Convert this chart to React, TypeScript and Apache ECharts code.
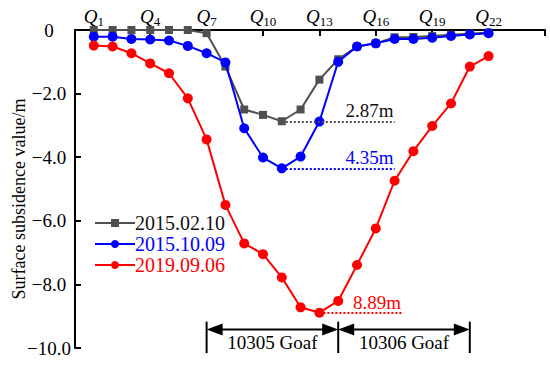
import { useEffect, useRef } from "react";
import * as echarts from "echarts";

const FONT = '"Liberation Serif", "Times New Roman", serif';

// Survey points Q1..Q22
const qNumbers = [1, 2, 3, 4, 5, 6, 7, 8, 9, 10, 11, 12, 13, 14, 15, 16, 17, 18, 19, 20, 21, 22];
const qLabelTicks = [1, 4, 7, 10, 13, 16, 19, 22];
const qAxisTicks = [1, 4, 7, 10, 13, 16, 19, 22, 25];

const seriesNames = ["2015.02.10", "2015.10.09", "2019.09.06"];
const subsidence20150210 = [0, 0, 0, 0, 0, 0, -0.1, -1.15, -2.5, -2.67, -2.87, -2.5, -1.56, -0.92, -0.52, -0.42, -0.23, -0.22, -0.19, -0.15, -0.12, -0.08];
const subsidence20151009 = [-0.21, -0.21, -0.28, -0.3, -0.33, -0.5, -0.73, -1.02, -3.09, -4.01, -4.35, -3.98, -2.88, -1.0, -0.52, -0.42, -0.28, -0.28, -0.24, -0.19, -0.14, -0.1];
const subsidence20190906 = [-0.49, -0.52, -0.73, -1.05, -1.36, -2.15, -3.44, -5.5, -6.71, -7.05, -7.78, -8.72, -8.89, -8.52, -7.39, -6.24, -4.74, -3.81, -3.02, -2.31, -1.15, -0.82];

const yTicks = [0, -2, -4, -6, -8, -10];
const yAxisTitle = "Surface subsidence value/m";

// Max-subsidence annotation line end (in Q index units)
const maxLineEnds = [17, 17, 17.4];

// Goaf extents (in Q index units) and names
const goafBounds = [7, 14, 21];
const goafNames = ["10305 Goaf", "10306 Goaf"];

export default function App() {
  const ref = useRef<HTMLDivElement>(null);

  useEffect(() => {
    const chart = echarts.init(ref.current!, null, { renderer: "svg" });
    const colors = ["#505050", "#0000ff", "#ff0000"];
    const textColors = ["#111111", "#0000ff", "#ff0000"];
    const values = [subsidence20150210, subsidence20151009, subsidence20190906];
    const symbols = ["rect", "circle", "circle"];
    const symbolSizes = [8, 10, 10];

    const series = values.map((vals, k) => {
      let mi = 0;
      vals.forEach((v, i) => {
        if (v < vals[mi]) mi = i;
      });
      const mv = vals[mi];
      return {
        name: seriesNames[k],
        type: "line",
        data: vals.map((v, i) => [qNumbers[i], v]),
        symbol: symbols[k],
        symbolSize: symbolSizes[k],
        clip: false,
        z: 2 + k,
        itemStyle: { color: colors[k] },
        lineStyle: { color: colors[k], width: 2 },
        markLine: {
          silent: true,
          symbol: ["none", "none"],
          lineStyle: { color: colors[k], type: "dotted", width: 2 },
          label: {
            show: true,
            position: "insideEndTop",
            distance: 1,
            formatter: `${Math.abs(mv).toFixed(2)}m`,
            color: textColors[k],
            fontSize: 19,
            fontFamily: FONT,
          },
          data: [[{ coord: [qNumbers[mi], mv] }, { coord: [maxLineEnds[k], mv] }]],
        },
      };
    });

    chart.setOption({
      animation: false,
      backgroundColor: "#ffffff",
      textStyle: { fontFamily: FONT },
      grid: { left: 75, right: 5, top: 30, bottom: 17, containLabel: false, outerBoundsMode: "none" },
      legend: {
        orient: "vertical",
        left: 89,
        top: 208,
        itemWidth: 40,
        itemHeight: 10,
        itemGap: 1,
        textStyle: { fontSize: 20, fontFamily: FONT, lineHeight: 20, padding: [0, 0, 0, -5] },
        data: seriesNames.map((n, k) => ({ name: n, textStyle: { color: textColors[k] } })),
      },
      xAxis: {
        type: "value",
        position: "top",
        min: 0,
        max: 25,
        splitLine: { show: false },
        axisLine: { show: true, onZero: false, lineStyle: { color: "#000", width: 2 } },
        axisTick: {
          show: true,
          inside: true,
          length: 6,
          customValues: qAxisTicks,
          lineStyle: { color: "#000", width: 2 },
        },
        axisLabel: {
          show: true,
          customValues: qLabelTicks,
          margin: 2,
          formatter: (v: number) => `{q|Q}{s|${v}}`,
          rich: {
            q: { fontSize: 19, fontStyle: "italic", fontFamily: FONT, color: "#000", verticalAlign: "bottom", padding: [0, 0, 2, 0] },
            s: { fontSize: 13, fontFamily: FONT, color: "#000", verticalAlign: "bottom" },
          },
        },
      },
      yAxis: {
        type: "value",
        min: -10,
        max: 0,
        interval: 2,
        splitLine: { show: false },
        axisLine: { show: true, onZero: false, lineStyle: { color: "#000", width: 2 } },
        axisTick: { show: true, inside: true, length: 6, lineStyle: { color: "#000", width: 2 } },
        axisLabel: {
          margin: 26,
          align: "center",
          fontSize: 19,
          fontFamily: FONT,
          color: "#000",
          customValues: yTicks,
          formatter: (v: number) => (v === 0 ? "0" : "\u2212" + Math.abs(v).toFixed(1)),
        },
      },
      series,
    });

    // Goaf dimension annotation
    const arrowY = -9.42;
    const barTop = -9.17;
    const barBottom = -10.16;
    const labelY = -9.84;
    const px = (x: number, y: number) => chart.convertToPixel({ gridIndex: 0 }, [x, y]) as number[];
    const graphic: any[] = [];

    // Y axis title (rotated)
    graphic.push({
      type: "text",
      x: 19,
      y: 199,
      rotation: Math.PI / 2,
      style: {
        text: yAxisTitle,
        fontSize: 18,
        fontFamily: FONT,
        fill: "#000",
        align: "center",
        verticalAlign: "middle",
      },
      z: 10,
    });

    goafBounds.forEach((b) => {
      const p1 = px(b, barTop);
      const p2 = px(b, barBottom);
      graphic.push({
        type: "line",
        shape: { x1: p1[0], y1: p1[1], x2: p2[0], y2: p2[1] },
        style: { stroke: "#000", lineWidth: 2 },
        z: 10,
      });
    });
    const aLen = 16;
    const aHalf = 6;
    for (let i = 0; i < goafBounds.length - 1; i++) {
      const a = px(goafBounds[i], arrowY);
      const b = px(goafBounds[i + 1], arrowY);
      const y = a[1];
      graphic.push({
        type: "line",
        shape: { x1: a[0] + aLen - 2, y1: y, x2: b[0] - aLen + 2, y2: y },
        style: { stroke: "#000", lineWidth: 2 },
        z: 10,
      });
      graphic.push({
        type: "polygon",
        shape: { points: [[a[0], y], [a[0] + aLen, y - aHalf], [a[0] + aLen, y + aHalf]] },
        style: { fill: "#000" },
        z: 10,
      });
      graphic.push({
        type: "polygon",
        shape: { points: [[b[0], y], [b[0] - aLen, y - aHalf], [b[0] - aLen, y + aHalf]] },
        style: { fill: "#000" },
        z: 10,
      });
      const lp = px((goafBounds[i] + goafBounds[i + 1]) / 2, labelY);
      graphic.push({
        type: "text",
        x: lp[0],
        y: lp[1],
        style: {
          text: goafNames[i],
          fontSize: 19,
          fontFamily: FONT,
          fill: "#000",
          align: "center",
          verticalAlign: "middle",
        },
        z: 10,
      });
    }
    chart.setOption({ graphic });

    return () => chart.dispose();
  }, []);

  return (
    <div
      ref={ref}
      style={{ position: "fixed", left: 0, top: 0, width: 550, height: 365, background: "#fff" }}
    />
  );
}
